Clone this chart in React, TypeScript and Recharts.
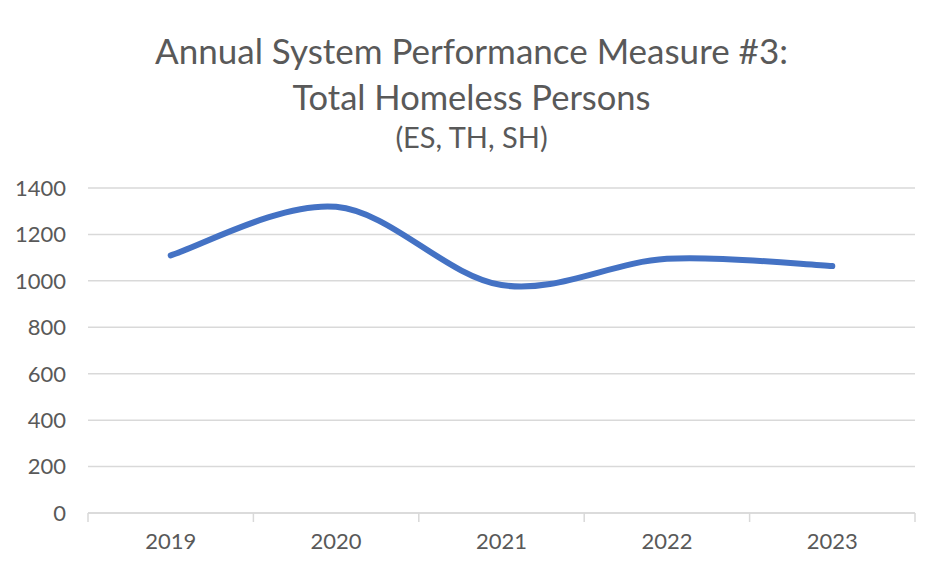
import React from 'react';
import { LineChart, Line, XAxis, YAxis, CartesianGrid } from 'recharts';

const years = ['2019', '2020', '2021', '2022', '2023'];
const totalHomeless = [1110, 1319, 982, 1095, 1064];
const yTicks = [0, 200, 400, 600, 800, 1000, 1200, 1400];
const boundaryTicks = [0, 1, 2, 3, 4, 5];

const data = years.map((y, i) => ({ year: y, value: totalHomeless[i] }));

// Excel-like smoothed line (Catmull-Rom through the points)
function excelSmooth(context: any) {
  let pts: number[][] = [];
  return {
    areaStart() {},
    areaEnd() {},
    lineStart() {
      pts = [];
    },
    lineEnd() {
      if (!pts.length) return;
      context.moveTo(pts[0][0], pts[0][1]);
      for (let i = 0; i < pts.length - 1; i++) {
        const p0 = pts[i - 1] || pts[i];
        const p1 = pts[i];
        const p2 = pts[i + 1];
        const p3 = pts[i + 2] || pts[i + 1];
        const c1x = p1[0] + (p2[0] - p0[0]) / 6;
        const c1y = p1[1] + (p2[1] - p0[1]) / 6;
        const c2x = p2[0] - (p3[0] - p1[0]) / 6;
        const c2y = p2[1] - (p3[1] - p1[1]) / 6;
        context.bezierCurveTo(c1x, c1y, c2x, c2y, p2[0], p2[1]);
      }
    },
    point(x: number, y: number) {
      pts.push([+x, +y]);
    },
  };
}

const FONT = 'Lato, "Open Sans", sans-serif';
const GRAY = '#595959';
const AXIS = '#d9d9d9';

const titleLine = (top: number, size: number, h: number): React.CSSProperties => ({
  position: 'absolute',
  left: 0,
  top,
  width: 943,
  height: h,
  lineHeight: `${h}px`,
  textAlign: 'center',
  color: GRAY,
  fontSize: size,
  whiteSpace: 'nowrap',
});

const categoryCenter = (d: any) => years.indexOf(d.year) + 0.5;

export default function App() {
  return (
    <div style={{ position: 'absolute', left: 0, top: 0, width: 943, height: 573, background: '#fff', fontFamily: FONT }}>
      <div style={titleLine(28, 35, 44)}>Annual System Performance Measure #3:</div>
      <div style={titleLine(75, 34.5, 44)}>Total Homeless Persons</div>
      <div style={titleLine(119, 29, 36)}>(ES, TH, SH)</div>
      <LineChart width={943} height={573} data={data} margin={{ top: 188, right: 28, bottom: 0, left: 0 }} style={{ position: 'absolute', left: 0, top: 0 }}>
        <CartesianGrid vertical={false} stroke={AXIS} strokeWidth={1.5} xAxisId="cat" />
        <XAxis
          xAxisId={0}
          type="number"
          dataKey={categoryCenter}
          domain={[0, years.length]}
          ticks={boundaryTicks}
          interval={0}
          tick={() => <g />}
          axisLine={{ stroke: AXIS, strokeWidth: 1.5 }}
          tickLine={{ stroke: AXIS, strokeWidth: 1.5 }}
          tickSize={9}
          height={1}
        />
        <XAxis
          xAxisId="cat"
          dataKey="year"
          padding={{ left: 82.7, right: 82.7 }}
          axisLine={false}
          tickLine={false}
          tickSize={0}
          tickMargin={19}
          height={59}
          tick={{ fill: GRAY, fontSize: 22, fontFamily: FONT }}
        />
        <YAxis
          domain={[0, 1400]}
          ticks={yTicks}
          width={88}
          axisLine={false}
          tickLine={false}
          tickSize={0}
          tickMargin={22}
          tick={{ fill: GRAY, fontSize: 22, fontFamily: FONT }}
        />
        <Line
          xAxisId="cat"
          dataKey="value"
          type={excelSmooth as any}
          stroke="#4472C4"
          strokeWidth={6}
          dot={false}
          activeDot={false}
          strokeLinecap="round"
          isAnimationActive={false}
        />
      </LineChart>
    </div>
  );
}
